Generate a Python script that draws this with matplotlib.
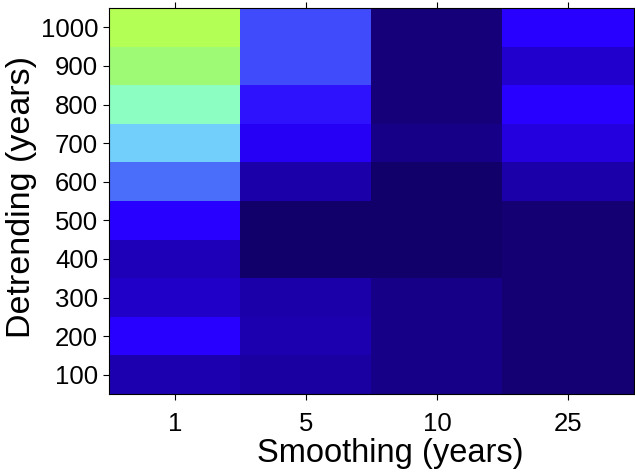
import numpy as np
import matplotlib
matplotlib.use('Agg')
import matplotlib.pyplot as plt
from matplotlib.colors import LinearSegmentedColormap

plt.rcParams['font.family'] = ['Liberation Sans', 'DejaVu Sans']

smoothing = ['1', '5', '10', '25']
detrending = [100, 200, 300, 400, 500, 600, 700, 800, 900, 1000]

# relative score per smoothing window, rows go 100 -> 1000 years
score_s1 = [0.10, 0.20, 0.13, 0.11, 0.20, 0.36, 0.55, 0.75, 0.90, 1.00]
score_s5 = [0.08, 0.10, 0.09, 0.01, 0.01, 0.09, 0.19, 0.23, 0.31, 0.31]
score_s10 = [0.05, 0.05, 0.05, 0.01, 0.01, 0.01, 0.05, 0.03, 0.03, 0.03]
score_s25 = [0.02, 0.02, 0.02, 0.02, 0.02, 0.09, 0.16, 0.20, 0.14, 0.20]

grid = np.array([score_s1, score_s5, score_s10, score_s25]).T

# colormap picked off the figure: navy -> blue -> sky -> aqua -> lime
anchors = [
    (0.00, (18, 0, 100)),
    (0.20, (40, 0, 255)),
    (0.36, (75, 110, 250)),
    (0.55, (115, 208, 252)),
    (0.75, (140, 255, 195)),
    (0.90, (158, 250, 118)),
    (1.00, (180, 255, 85)),
]
cmap = LinearSegmentedColormap.from_list(
    'score', [(v, tuple(c / 255 for c in rgb)) for v, rgb in anchors])

fig = plt.figure(figsize=(6.35, 4.73), dpi=100)
ax = fig.add_axes([0.172, 0.167, 0.826, 0.816])

ax.imshow(grid, cmap=cmap, vmin=0, vmax=1, origin='lower', aspect='auto',
          interpolation='nearest')

ax.set_xticks(range(len(smoothing)))
ax.set_xticklabels(smoothing)
ax.set_yticks(range(len(detrending)))
ax.set_yticklabels([str(d) for d in detrending])

ax.tick_params(direction='out', length=4, width=0.8, labelsize=18.5,
               top=True, right=True, pad=4)
ax.tick_params(axis='x', pad=9)
for s in ax.spines.values():
    s.set_linewidth(0.8)

ax.set_xlabel('Smoothing (years)', fontsize=23.5, va='top')
ax.xaxis.set_label_coords(0.535, -0.115)
ax.set_ylabel('Detrending (years)', fontsize=24.5)
ax.yaxis.set_label_coords(-0.138, 0.51)

fig.savefig('out.png', dpi=100)
